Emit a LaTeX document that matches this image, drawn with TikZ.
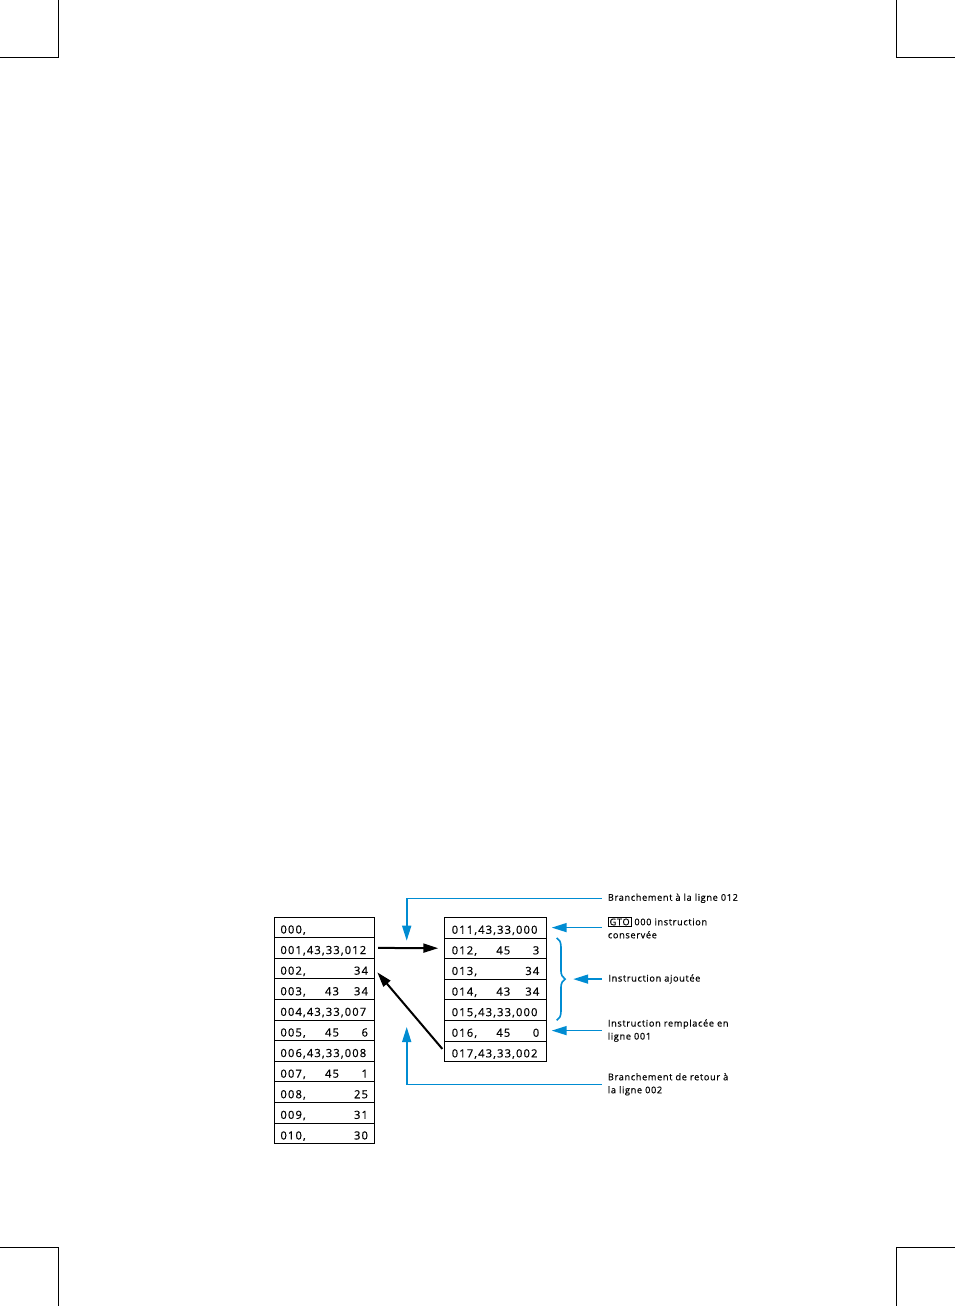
\documentclass[tikz,border=0pt]{standalone}
\usepackage{fontspec}
\setmainfont{Open Sans}[LetterSpace=7, Ligatures=NoCommon, FakeBold=0.5]
\newfontfamily\cellfont{Open Sans}[LetterSpace=10, FakeBold=0.6]
\usetikzlibrary{arrows.meta, positioning, decorations.pathreplacing}
\definecolor{hpblue}{RGB}{0,140,210}
% one program line: step number, then key codes at fixed columns
\newcommand{\prow}[3]{\makebox[87.5pt][l]{\makebox[0pt][l]{#1}\hspace*{58.5pt}\makebox[0pt][r]{#2}\hspace*{29pt}\makebox[0pt][r]{#3}}}
\newcommand{\keybox}[1]{{\setlength{\fboxsep}{1pt}\setlength{\fboxrule}{0.7pt}\fbox{#1}}}

\begin{document}
\begin{tikzpicture}[x=1pt, y=-1pt,
  node distance=0pt,
  every node/.style={font=\fontsize{9.2}{13}\selectfont},
  cell/.style={rectangle, draw, line width=0.8pt, outer sep=0pt, inner sep=0pt, minimum height=20.6pt,
    text height=12.3pt, text depth=0pt, font=\cellfont\fontsize{11.2}{12}\selectfont},
  cellL/.style={cell, minimum width=99.7pt},
  cellR/.style={cell, minimum width=102.4pt},
  lbl/.style={anchor=west, align=left, inner xsep=6pt, inner ysep=3pt},
  arr/.style={-{Triangle[length=15pt,width=9pt]}, line width=2pt},
  barr/.style={-{Triangle[length=15pt,width=9pt]}, draw=hpblue, line width=1.6pt},
  brace/.style={decorate, decoration={brace, amplitude=8.5pt}, draw=hpblue, line width=1.6pt}
]
\useasboundingbox (0,0) rectangle (955,1306);

% crop marks
\draw[line width=1.5pt] (0,57.3) -- (58.3,57.3) -- (58.3,0);
\draw[line width=1.5pt] (955,57.3) -- (896.7,57.3) -- (896.7,0);
\draw[line width=1.5pt] (0,1247.7) -- (58.3,1247.7) -- (58.3,1306);
\draw[line width=1.5pt] (955,1247.7) -- (896.7,1247.7) -- (896.7,1306);

% main program
\node[cellL] (r00) at (324.2,927.3) {\prow{000,}{}{}};
\node[cellL, below=of r00] (r01) {\prow{001,43,33,012}{}{}};
\node[cellL, below=of r01] (r02) {\prow{002,}{}{34}};
\node[cellL, below=of r02] (r03) {\prow{003,}{43}{34}};
\node[cellL, below=of r03] (r04) {\prow{004,43,33,007}{}{}};
\node[cellL, below=of r04] (r05) {\prow{005,}{45}{6}};
\node[cellL, below=of r05] (r06) {\prow{006,43,33,008}{}{}};
\node[cellL, below=of r06] (r07) {\prow{007,}{45}{1}};
\node[cellL, below=of r07] (r08) {\prow{008,}{}{25}};
\node[cellL, below=of r08] (r09) {\prow{009,}{}{31}};
\node[cellL, below=of r09] (r10) {\prow{010,}{}{30}};

% subroutine
\node[cellR] (r11) at (495.5,927.6) {\prow{011,43,33,000}{}{}};
\node[cellR, below=of r11] (r12) {\prow{012,}{45}{3}};
\node[cellR, below=of r12] (r13) {\prow{013,}{}{34}};
\node[cellR, below=of r13] (r14) {\prow{014,}{43}{34}};
\node[cellR, below=of r14] (r15) {\prow{015,43,33,000}{}{}};
\node[cellR, below=of r15] (r16) {\prow{016,}{45}{0}};
\node[cellR, below=of r16] (r17) {\prow{017,43,33,002}{}{}};

% jumps
\draw[arr, shorten <=4pt, shorten >=6pt] (r01.east) -- (r12.west);
\draw[arr, shorten <=3pt, shorten >=5pt] (r17.west) -- (r02.east);

% notes
\draw[brace] ([xshift=10pt]r12.north east) -- ([xshift=10pt]r15.south east)
  coordinate[midway, xshift=16.5pt] (brc);
\coordinate (tipA) at (406.7,940.7);
\coordinate (tipE) at (406.7,1027);
\node[lbl] (lblA) at (601.7,898.3) {Branchement à la ligne 012};
\node[lbl, right=55pt of r11] (lblB) {\keybox{GTO} 000 instruction\\conservée};
\node[lbl, right=29pt of brc] (lblC) {Instruction ajoutée};
\node[lbl, right=55pt of r16] (lblD) {Instruction remplacée en\\ligne 001};
\node[lbl] (lblE) at (601.7,1084.3) {Branchement de retour à\\la ligne 002};
\draw[barr] (lblA.west) -| (tipA);
\draw[barr, shorten >=5pt] (lblB.west) -- (r11.east);
\draw[barr] (lblC.west) -- (brc);
\draw[barr, shorten >=5pt] (lblD.west) -- (r16.east);
\draw[barr] (lblE.west) -| (tipE);
\end{tikzpicture}
\end{document}
